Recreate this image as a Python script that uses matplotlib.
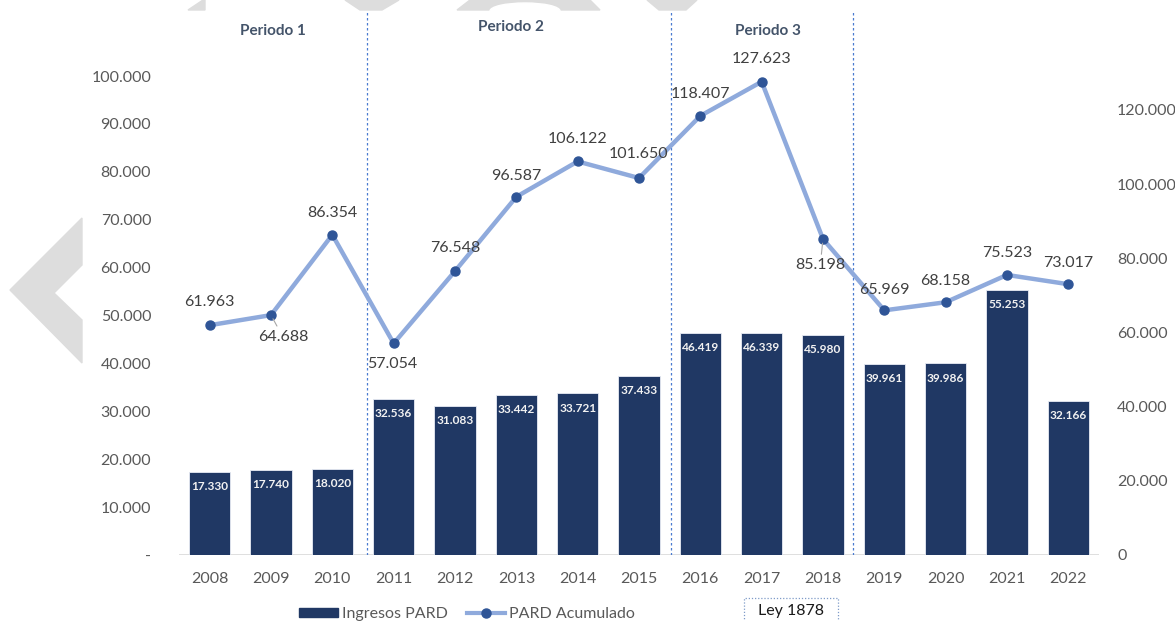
import matplotlib
matplotlib.use("Agg")
import matplotlib.pyplot as plt
from matplotlib.patches import Polygon, Rectangle, Ellipse
from matplotlib.lines import Line2D
from matplotlib.ticker import FuncFormatter

plt.rcParams['font.family'] = ['Lato', 'DejaVu Sans']

# ---- data ----
years = ['2008', '2009', '2010', '2011', '2012', '2013', '2014', '2015',
         '2016', '2017', '2018', '2019', '2020', '2021', '2022']
ingresos = [17330, 17740, 18020, 32536, 31083, 33442, 33721, 37433,
            46419, 46339, 45980, 39961, 39986, 55253, 32166]
acumulado = [61963, 64688, 86354, 57054, 76548, 96587, 106122, 101650,
             118407, 127623, 85198, 65969, 68158, 75523, 73017]
periodos = ['Periodo 1', 'Periodo 2', 'Periodo 3']
left_ticks = [0, 10000, 20000, 30000, 40000, 50000, 60000, 70000, 80000, 90000, 100000]
right_ticks = [0, 20000, 40000, 60000, 80000, 100000, 120000]

# ---- style / placement ----
W, H = 1175, 621
BAR_C = '#203864'
LINE_C = '#8FAADC'
MARK_C = '#2F5597'
TICK_C = '#595959'
LBL_C = '#404040'
# label offsets (points) for line data labels
lbl_off = [(0, 16.5), (8.6, -15.8), (0, 16), (-1, -15), (0, 17), (0, 15), (0, 16),
           (0, 17), (0, 16), (0, 16), (-2, -19), (0, 15), (0, 15), (0, 15.5), (0, 15)]
leader = {1, 10}

def fx(px):
    return px / W

def fy(py):
    return 1 - py / H

fig = plt.figure(figsize=(W / 100, H / 100), dpi=100)

# decorative grey shapes
grey = '#DDDDDD'
chev = [(82, 218), (10, 290), (82, 363), (82, 320), (54, 293), (82, 265)]
fig.patches.append(Polygon([(fx(x), fy(y)) for x, y in chev], closed=True,
                           transform=fig.transFigure, color=grey, zorder=0))
tops = [
    [(188, 10), (203, 0), (205, 0), (205, 10)],
    [(345, 0), (399, 0), (382, 10), (360, 10)],
    [(457, 10), (470, 0), (590, 0), (600, 10)],
    [(647, 0), (697, 0), (686, 10), (659, 10)],
]
for poly in tops:
    fig.patches.append(Polygon([(fx(x), fy(y)) for x, y in poly], closed=True,
                               transform=fig.transFigure, color=grey, zorder=0))
fig.patches.append(Ellipse((fx(525), fy(11)), 70 / W, 16 / H, transform=fig.transFigure,
                           color='white', zorder=0.5))

ax = fig.add_axes([fx(179), fy(555), (1099 - 179) / W, (555 - 10) / H])
ax.set_facecolor('none')
x = list(range(len(years)))

ax.bar(x, ingresos, width=0.67, color=BAR_C, edgecolor='#E8ECF4', linewidth=0.6, zorder=2)
ax.set_xlim(-0.5, len(years) - 0.5)
ax.set_ylim(0, 545 / 47.9 * 10000)
ax.set_yticks(left_ticks)
ax.yaxis.set_major_formatter(FuncFormatter(lambda v, p: '-' if v == 0 else f'{int(v):,}'.replace(',', '.')))
ax.set_xticks(x)
ax.set_xticklabels(years)
ax.tick_params(axis='y', length=0, pad=20, labelsize=11.5, labelcolor=TICK_C)
ax.tick_params(axis='x', length=0, pad=12, labelsize=11.5, labelcolor=TICK_C)
for s in ax.spines.values():
    s.set_visible(False)
ax.axhline(0, color='#D9D9D9', lw=1.2, zorder=1)

for xi, v in zip(x, ingresos):
    ax.annotate(f'{v:,}'.replace(',', '.'), (xi, v), xytext=(0, -10.5), textcoords='offset points',
                ha='center', va='center', color='#F2F2F2', fontsize=8.6, fontweight='bold', zorder=3)

# period separators
for xv in [2.56, 7.52, 10.49]:
    ax.axvline(xv, color='#4A7BD0', lw=0.9, ls=(0, (2, 2)), zorder=1)

ax2 = ax.twinx()
ax2.set_ylim(0, 545 / 74.17 * 20000)
ax2.set_yticks(right_ticks)
ax2.yaxis.set_major_formatter(FuncFormatter(lambda v, p: '0' if v == 0 else f'{int(v):,}'.replace(',', '.')))
ax2.tick_params(axis='y', length=0, pad=13, labelsize=11.5, labelcolor=TICK_C)
for s in ax2.spines.values():
    s.set_visible(False)
ax2.plot(x, acumulado, color=LINE_C, lw=3.2, marker='o', markersize=6.5,
         markerfacecolor=MARK_C, markeredgecolor=MARK_C, zorder=4, solid_capstyle='round')

for i, (xi, v) in enumerate(zip(x, acumulado)):
    dx, dy = lbl_off[i]
    kw = {}
    if i in leader:
        kw['arrowprops'] = dict(arrowstyle='-', color='#A6A6A6', lw=0.8, shrinkA=1, shrinkB=3)
    ax2.annotate(f'{v:,}'.replace(',', '.'), (xi, v), xytext=(dx, dy), textcoords='offset points',
                 ha='center', va='center', color=LBL_C, fontsize=11.5, zorder=5, **kw)

# period titles
for name, (px, py) in zip(periodos, [(273, 31), (511, 27), (768, 31)]):
    fig.text(fx(px), fy(py), name, ha='center', va='center', fontsize=11,
             fontweight='bold', color='#44546A')

# legend
handles = [Rectangle((0, 0), 1, 1, color=BAR_C),
           Line2D([0], [0], color=LINE_C, lw=3, marker='o', markersize=6.5,
                  markerfacecolor=MARK_C, markeredgecolor=MARK_C)]
fig.legend(handles, ['Ingresos PARD', 'PARD Acumulado'], loc='center',
           bbox_to_anchor=(fx(467), fy(614)), ncol=2, frameon=False, fontsize=11.5,
           handlelength=2.4, handleheight=0.5, handletextpad=0.25, columnspacing=1.2,
           borderpad=0, labelcolor=TICK_C)

# Ley 1878 box
fig.patches.append(Rectangle((fx(744), fy(630)), (838 - 744) / W, (630 - 598) / H,
                             transform=fig.transFigure, fill=False, edgecolor='#7F9BC8',
                             lw=0.9, ls=(0, (1, 1.5)), zorder=1))
fig.text(fx(791), fy(611), 'Ley 1878', ha='center', va='center', fontsize=11.5, color='#1A1A1A')

fig.savefig('out.png', dpi=100)
